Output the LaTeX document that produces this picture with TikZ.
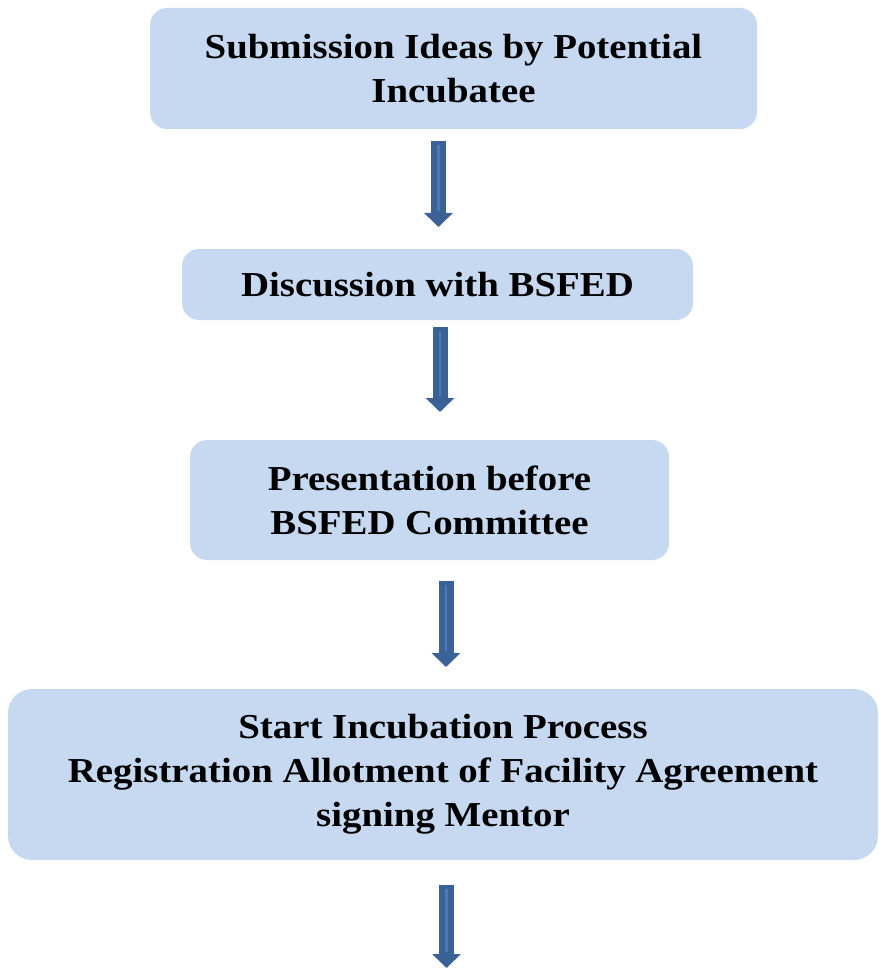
\documentclass[tikz,border=0pt]{standalone}
\usepackage{fontspec}
\setmainfont[FakeStretch=1.11]{Liberation Serif}
\usetikzlibrary{arrows.meta}
\definecolor{boxfill}{HTML}{C6D9F1}
\definecolor{arrcol}{HTML}{3B6296}
\definecolor{arrin}{HTML}{4A7BB7}
\tikzset{
  stepbox/.style={fill=boxfill, draw=none, rounded corners=17pt, align=center,
    font=\fontsize{35}{44}\selectfont\bfseries, inner sep=0pt},
  blockarr/.style={line width=15pt, arrcol, -{Triangle[width=28pt,length=14pt]}},
  innerline/.style={line width=2.5pt, arrin}
}
\begin{document}
\begin{tikzpicture}[x=1pt,y=-1pt]
\useasboundingbox (0,0) rectangle (878,968);
\node[stepbox, minimum width=607pt, minimum height=121pt] (b1) at (453.5,68.5) {Submission Ideas by Potential\\Incubatee};
\node[stepbox, minimum width=511pt, minimum height=71pt] (b2) at (437.5,284.5) {Discussion with BSFED};
\node[stepbox, minimum width=479pt, minimum height=120pt] (b3) at (429.5,500) {Presentation before\\BSFED Committee};
\node[stepbox, rounded corners=24pt, minimum width=870pt, minimum height=171pt] (b4) at (443,774.5) {Start Incubation Process\\Registration Allotment of Facility Agreement\\signing Mentor};
\coordinate (a1s) at (438.5,141);
\coordinate (a1e) at (438.5,227);
\coordinate (a2s) at (440,327);
\coordinate (a2e) at (440,412);
\coordinate (a3s) at (446,581);
\coordinate (a3e) at (446,667);
\coordinate (a4s) at (446.5,885);
\coordinate (a4e) at (446.5,968);
\foreach \s/\e in {a1s/a1e,a2s/a2e,a3s/a3e,a4s/a4e}{
  \draw[blockarr] (\s) -- (\e);
  \draw[innerline] ([yshift=-4pt]\s) -- ([yshift=16pt]\e);
}
\end{tikzpicture}
\end{document}
